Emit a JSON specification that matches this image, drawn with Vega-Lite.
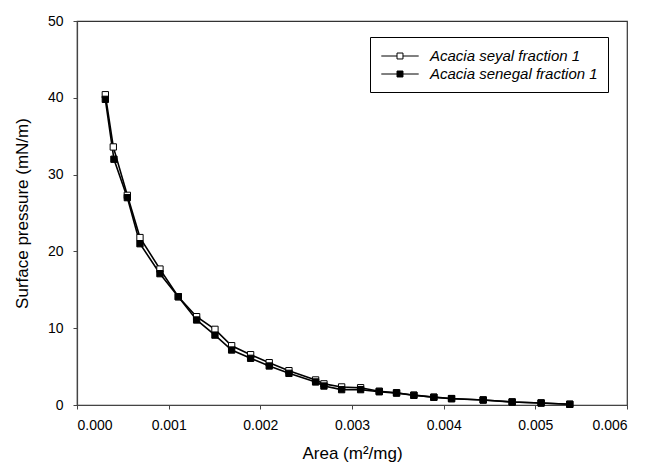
{
  "$schema": "https://vega.github.io/schema/vega-lite/v6.json",
  "width": 550,
  "height": 384,
  "autosize": "none",
  "padding": {"left": 77, "top": 21, "right": 20, "bottom": 63},
  "background": "white",
  "config": {
    "font": "Liberation Sans",
    "view": {"stroke": "#333333", "strokeWidth": 1.2},
    "axis": {"grid": false, "domainColor": "#444444", "domainWidth": 1.2, "tickColor": "#444444", "labelColor": "black", "titleColor": "black", "labelFont": "Liberation Sans", "titleFont": "Liberation Sans", "labelFontSize": 14, "titleFontSize": 17, "titleFontWeight": "normal", "tickSize": 4}
  },
  "data": {
    "values": [
      {"area": 0.000309, "pressure": 40.4, "species": "Acacia seyal"},
      {"area": 0.000396, "pressure": 33.6, "species": "Acacia seyal"},
      {"area": 0.000549, "pressure": 27.3, "species": "Acacia seyal"},
      {"area": 0.000687, "pressure": 21.8, "species": "Acacia seyal"},
      {"area": 0.000905, "pressure": 17.7, "species": "Acacia seyal"},
      {"area": 0.001105, "pressure": 14.1, "species": "Acacia seyal"},
      {"area": 0.001305, "pressure": 11.5, "species": "Acacia seyal"},
      {"area": 0.001505, "pressure": 9.85, "species": "Acacia seyal"},
      {"area": 0.001687, "pressure": 7.72, "species": "Acacia seyal"},
      {"area": 0.001894, "pressure": 6.55, "species": "Acacia seyal"},
      {"area": 0.002097, "pressure": 5.51, "species": "Acacia seyal"},
      {"area": 0.002312, "pressure": 4.47, "species": "Acacia seyal"},
      {"area": 0.002603, "pressure": 3.26, "species": "Acacia seyal"},
      {"area": 0.002694, "pressure": 2.75, "species": "Acacia seyal"},
      {"area": 0.002887, "pressure": 2.35, "species": "Acacia seyal"},
      {"area": 0.003094, "pressure": 2.25, "species": "Acacia seyal"},
      {"area": 0.003297, "pressure": 1.8, "species": "Acacia seyal"},
      {"area": 0.003486, "pressure": 1.6, "species": "Acacia seyal"},
      {"area": 0.003675, "pressure": 1.28, "species": "Acacia seyal"},
      {"area": 0.003893, "pressure": 1.02, "species": "Acacia seyal"},
      {"area": 0.004086, "pressure": 0.84, "species": "Acacia seyal"},
      {"area": 0.004431, "pressure": 0.66, "species": "Acacia seyal"},
      {"area": 0.004747, "pressure": 0.4, "species": "Acacia seyal"},
      {"area": 0.005063, "pressure": 0.27, "species": "Acacia seyal"},
      {"area": 0.005376, "pressure": 0.1, "species": "Acacia seyal"},
      {"area": 0.000309, "pressure": 39.8, "species": "Acacia senegal"},
      {"area": 0.000403, "pressure": 32.0, "species": "Acacia senegal"},
      {"area": 0.000549, "pressure": 27.0, "species": "Acacia senegal"},
      {"area": 0.000687, "pressure": 21.0, "species": "Acacia senegal"},
      {"area": 0.000905, "pressure": 17.1, "species": "Acacia senegal"},
      {"area": 0.001105, "pressure": 14.1, "species": "Acacia senegal"},
      {"area": 0.001305, "pressure": 11.07, "species": "Acacia senegal"},
      {"area": 0.001505, "pressure": 9.1, "species": "Acacia senegal"},
      {"area": 0.001687, "pressure": 7.16, "species": "Acacia senegal"},
      {"area": 0.001894, "pressure": 6.08, "species": "Acacia senegal"},
      {"area": 0.002097, "pressure": 5.08, "species": "Acacia senegal"},
      {"area": 0.002312, "pressure": 4.12, "species": "Acacia senegal"},
      {"area": 0.002603, "pressure": 3.0, "species": "Acacia senegal"},
      {"area": 0.002694, "pressure": 2.47, "species": "Acacia senegal"},
      {"area": 0.002887, "pressure": 2.0, "species": "Acacia senegal"},
      {"area": 0.003094, "pressure": 2.0, "species": "Acacia senegal"},
      {"area": 0.003297, "pressure": 1.72, "species": "Acacia senegal"},
      {"area": 0.003486, "pressure": 1.55, "species": "Acacia senegal"},
      {"area": 0.003675, "pressure": 1.26, "species": "Acacia senegal"},
      {"area": 0.003893, "pressure": 1.0, "species": "Acacia senegal"},
      {"area": 0.004086, "pressure": 0.82, "species": "Acacia senegal"},
      {"area": 0.004431, "pressure": 0.65, "species": "Acacia senegal"},
      {"area": 0.004747, "pressure": 0.39, "species": "Acacia senegal"},
      {"area": 0.005063, "pressure": 0.26, "species": "Acacia senegal"},
      {"area": 0.005376, "pressure": 0.09, "species": "Acacia senegal"}
    ]
  },
  "encoding": {
    "x": {"field": "area", "type": "quantitative", "scale": {"domain": [0, 0.006], "nice": false},
      "axis": {"title": "Area (m²/mg)", "values": [0, 0.001, 0.002, 0.003, 0.004, 0.005, 0.006], "format": ".3f", "labelPadding": 9, "titlePadding": 13}},
    "y": {"field": "pressure", "type": "quantitative", "scale": {"domain": [0, 50], "nice": false},
      "axis": {"title": "Surface pressure (mN/m)", "values": [0, 10, 20, 30, 40, 50], "labelPadding": 10, "titlePadding": 16}}
  },
  "layer": [
    {
      "mark": {"type": "line", "color": "black", "strokeWidth": 1.6},
      "encoding": {"detail": {"field": "species"}}
    },
    {
      "mark": {"type": "point", "shape": "square", "size": 40, "stroke": "black", "strokeWidth": 1, "opacity": 1, "filled": true},
      "encoding": {
        "fill": {"field": "species", "type": "nominal", "sort": ["Acacia seyal", "Acacia senegal"],
          "scale": {"domain": ["Acacia seyal", "Acacia senegal"], "range": ["white", "black"]},
          "legend": {
            "title": null, "orient": "none", "legendX": 293, "legendY": 16,
            "labelExpr": "datum.label + ' fraction 1'",
            "symbolType": "M-2.2,0H-0.35M0.35,0H2.2M-0.35,-0.35H0.35V0.35H-0.35Z",
            "symbolSize": 289, "symbolOffset": 11, "symbolStrokeColor": "black", "symbolStrokeWidth": 1,
            "labelFont": "Liberation Sans", "labelFontSize": 15, "labelFontStyle": "italic", "labelColor": "black",
            "labelOffset": 21, "labelLimit": 400, "rowPadding": 1,
            "strokeColor": "black", "padding": 10, "fillColor": "white"
          }
        }
      }
    }
  ]
}
